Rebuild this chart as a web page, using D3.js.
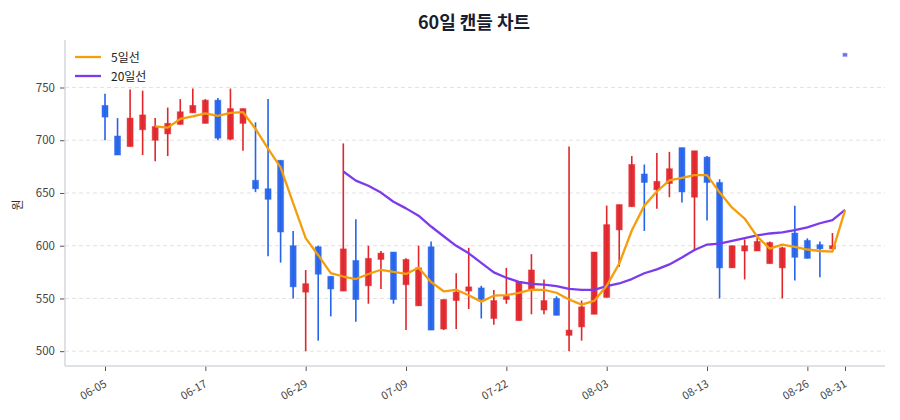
<!DOCTYPE html>
<html><head><meta charset="utf-8">
<script src="https://cdn.jsdelivr.net/npm/d3@7/dist/d3.min.js"></script>
<style>
html,body{margin:0;padding:0;background:#fff;}
svg{display:block;font-family:"Noto Sans CJK KR","Noto Sans",sans-serif;}
</style></head>
<body>
<svg id="chart" width="900" height="420"></svg>
<script>
// ---- data ----
const opens  = [733,704,694,710,700,706,715,726,716,738,701,716,662,654,681,600,556,599,571,557,
                586,562,587,594,563,543,599,521,548,557,560,531,549,529,558,539,550,515,523,535,
                551,615,637,668,653,659,693,646,684,660,579,595,595,583,579,612,605,601,597,781];
const highs  = [744,721,748,747,721,731,739,749,739,740,749,730,717,739,681,614,577,600,571,697,
                625,600,595,594,588,600,604,549,574,598,562,558,579,566,592,568,552,694,548,594,
                638,639,685,677,688,689,693,690,685,663,600,606,608,604,599,638,607,604,612,781];
const lows   = [700,686,694,686,680,685,715,726,716,700,700,690,651,590,584,550,500,510,533,557,
                528,545,559,545,520,543,520,520,521,540,531,525,545,529,535,535,534,500,510,535,
                551,580,637,614,635,646,641,595,624,550,579,568,595,583,550,567,588,570,597,781];
const closes = [722,686,721,724,713,716,727,733,738,702,730,730,654,644,613,561,564,573,559,597,
                549,588,593,549,587,579,520,549,556,561,549,548,552,566,577,548,534,520,542,594,
                620,639,677,660,661,673,651,690,660,579,600,600,604,603,598,589,588,597,600,781];
// 5-day moving average, from candle index 4
const ma5 = [713.2,712.0,720.2,722.6,725.4,723.2,726.0,726.6,710.8,692.0,674.2,640.4,607.2,591.0,
             574.0,570.8,568.4,573.2,577.2,575.2,573.2,579.2,565.6,556.8,558.2,553.0,547.0,552.6,
             553.2,555.2,558.4,558.2,555.4,549.0,544.2,547.6,562.0,583.0,614.4,638.0,651.4,662.0,
             664.4,667.0,667.0,650.6,636.0,625.8,608.6,597.2,601.0,598.8,596.4,595.0,594.4,633.5];
const ma5Start = 4;
// 20-day moving average, from candle index 19
const ma20 = [670.4,661.7,656.8,650.4,641.7,635.4,628.5,618.2,609.0,599.9,592.8,583.8,574.7,569.6,
              565.7,563.9,563.2,561.7,559.1,558.2,558.1,561.6,564.2,568.4,573.9,577.6,582.3,588.9,
              595.9,601.1,602.0,604.6,607.2,609.8,611.6,612.7,614.7,617.4,621.3,624.2,634.0];
const ma20Start = 19;
const tickIndex  = [0,8,16,24,32,40,48,56,59];
const tickLabels = ["06-05","06-17","06-29","07-09","07-22","08-03","08-13","08-26","08-31"];
const yTicks = [500,550,600,650,700,750];
const seriesNames = ["5일선","20일선"];
const title = "60일 캔들 차트";
const yLabel = "원";

// ---- layout ----
const W = 900, H = 420;
const L = 65, R = 885, T = 40, B = 366;
const UP = "#e0262b", DOWN = "#2563eb", FLAT = "#5b5bf2";
const C5 = "#f59e0b", C20 = "#7c3aed";

const svg = d3.select("#chart");
const n = closes.length;
const x = d3.scaleLinear().domain([-3.19, n - 1 + 3.19]).range([L, R]);
const yMin = d3.min(lows), yMax = d3.max(highs);
const pad = (yMax - yMin) * 0.05;
const y = d3.scaleLinear().domain([yMin - pad, yMax + pad]).range([B, T]);

// grid
svg.append("g").selectAll("line").data(yTicks).join("line")
  .attr("x1", L).attr("x2", R)
  .attr("y1", d => y(d)).attr("y2", d => y(d))
  .attr("stroke", "#e3e3e3").attr("stroke-width", 1).attr("stroke-dasharray", "4,3");

// axes
const yAxis = d3.axisLeft(y).tickValues(yTicks).tickSize(5).tickPadding(5);
const gy = svg.append("g").attr("transform", `translate(${L},0)`).call(yAxis);
gy.select(".domain").remove();
gy.selectAll(".tick line").attr("stroke", "#555").attr("stroke-width", 1);
gy.selectAll(".tick text").attr("fill", "#444").attr("font-size", "11.5px")
  .attr("font-family", '"Noto Sans CJK KR","Noto Sans",sans-serif');

const xAxis = d3.axisBottom(x).tickValues(tickIndex).tickSize(5)
  .tickFormat((d, i) => tickLabels[i]);
const gx = svg.append("g").attr("transform", `translate(0,${B})`).call(xAxis);
gx.select(".domain").remove();
gx.selectAll(".tick line").attr("stroke", "#555").attr("stroke-width", 1);
gx.selectAll(".tick text")
  .attr("fill", "#444").attr("font-size", "11px")
  .attr("font-family", '"Noto Sans CJK KR","Noto Sans",sans-serif')
  .attr("text-anchor", "end").attr("dy", null).attr("y", 0)
  .attr("transform", "translate(2,20) rotate(-30)");

// spines
svg.append("line").attr("x1", L).attr("x2", L).attr("y1", T).attr("y2", B)
  .attr("stroke", "#d3d7dd").attr("stroke-width", 1.5);
svg.append("line").attr("x1", L).attr("x2", R).attr("y1", B).attr("y2", B)
  .attr("stroke", "#d3d7dd").attr("stroke-width", 1.5);

// candles
const candles = d3.range(n).map(i => ({i, o: opens[i], h: highs[i], l: lows[i], c: closes[i]}));
const colorOf = d => d.c > d.o ? UP : (d.c < d.o ? DOWN : FLAT);
const g = svg.append("g");
g.selectAll("line.wick").data(candles.filter(d => d.h !== d.l)).join("line")
  .attr("class", "wick")
  .attr("x1", d => x(d.i)).attr("x2", d => x(d.i))
  .attr("y1", d => y(d.h)).attr("y2", d => y(d.l))
  .attr("stroke", colorOf).attr("stroke-width", 1.6);
g.selectAll("rect.body").data(candles).join("rect")
  .attr("class", "body")
  .attr("x", d => x(d.i) - (d.o === d.c ? 2 : 3))
  .attr("width", d => d.o === d.c ? 4 : 6)
  .attr("y", d => d.o === d.c ? y(d.o) - 1.5 : y(Math.max(d.o, d.c)))
  .attr("height", d => d.o === d.c ? 3 : Math.max(1, Math.abs(y(d.o) - y(d.c))))
  .attr("fill", colorOf).attr("fill-opacity", d => d.o === d.c ? 0.85 : 0.95)
  .attr("stroke", colorOf).attr("stroke-opacity", 0.45).attr("stroke-width", 1);

// moving averages
const line = d3.line().x(d => x(d[0])).y(d => y(d[1]));
svg.append("path").datum(ma20.map((v, k) => [k + ma20Start, v]))
  .attr("d", line).attr("fill", "none").attr("stroke", C20).attr("stroke-width", 2.3)
  .attr("stroke-linejoin", "round");
svg.append("path").datum(ma5.map((v, k) => [k + ma5Start, v]))
  .attr("d", line).attr("fill", "none").attr("stroke", C5).attr("stroke-width", 2.3)
  .attr("stroke-linejoin", "round");

// legend
const lg = svg.append("g");
[C5, C20].forEach((c, k) => {
  const yy = 57 + k * 19;
  lg.append("line").attr("x1", 75).attr("x2", 101).attr("y1", yy).attr("y2", yy)
    .attr("stroke", c).attr("stroke-width", 2.3);
  lg.append("text").attr("x", 111).attr("y", yy + 4.5).text(seriesNames[k])
    .attr("font-size", "12px").attr("fill", "#222");
});

// title & y label
svg.append("text").attr("x", 474).attr("y", 29).attr("text-anchor", "middle")
  .attr("font-size", "18px").attr("font-weight", "bold").attr("fill", "#1a1d2e").text(title);
svg.append("text").attr("transform", "translate(22,205) rotate(-90)")
  .attr("text-anchor", "middle").attr("font-size", "12px").attr("fill", "#333").text(yLabel);
</script>
</body></html>
